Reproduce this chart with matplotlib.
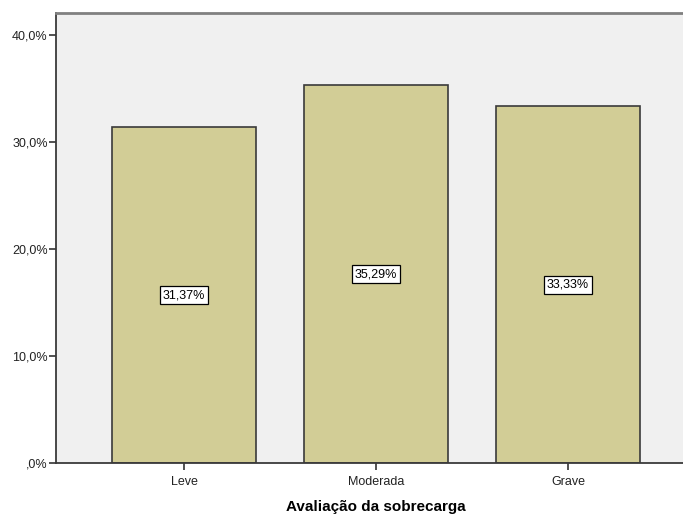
import matplotlib.pyplot as plt
from matplotlib.ticker import FuncFormatter

categorias = ['Leve', 'Moderada', 'Grave']
percentuais = [31.37, 35.29, 33.33]
ticks_y = [0, 10, 20, 30, 40]

plt.rcParams['font.family'] = ['Liberation Sans', 'DejaVu Sans']

fig = plt.figure(figsize=(6.83, 5.16), dpi=100)
ax = fig.add_axes([0.082, 0.1027, 0.937, 0.872])
ax.set_facecolor('#f0f0f0')

pos = list(range(len(categorias)))
ax.bar(pos, percentuais, width=0.75, color='#d2cd96',
       edgecolor='#3a3a3a', linewidth=1.2, zorder=2)

for x, v in zip(pos, percentuais):
    ax.text(x, v / 2, '{:.2f}%'.format(v).replace('.', ','),
            ha='center', va='center', fontsize=9, zorder=3,
            bbox=dict(boxstyle='square,pad=0.25', facecolor='white',
                      edgecolor='black', linewidth=0.9))


def fmt_pct(v, _):
    s = '{:.1f}%'.format(v).replace('.', ',')
    return s[1:] if s.startswith('0,') else s


ax.set_xlim(-0.667, 2.667)
ax.set_ylim(0, 42.06)
ax.set_yticks(ticks_y)
ax.yaxis.set_major_formatter(FuncFormatter(fmt_pct))
ax.set_xticks(pos)
ax.set_xticklabels(categorias)
ax.tick_params(axis='both', direction='out', length=5, width=1.2,
               colors='#333333', labelsize=9, labelcolor='#222222')
ax.tick_params(axis='x', pad=4)
ax.tick_params(axis='y', pad=1)

for side in ['left', 'bottom']:
    ax.spines[side].set_color('#3a3a3a')
    ax.spines[side].set_linewidth(1.3)
ax.spines['top'].set_color('#808080')
ax.spines['top'].set_linewidth(2)
ax.spines['right'].set_visible(False)

ax.set_xlabel('Avaliação da sobrecarga', fontsize=11, fontweight='bold',
              labelpad=9)

fig.savefig('out.png', dpi=100)
